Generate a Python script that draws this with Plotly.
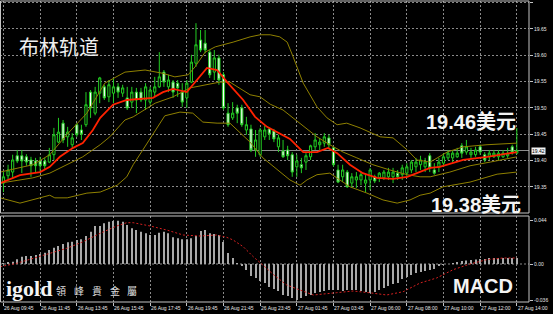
import plotly.graph_objects as go

# ---------------- data ----------------
time_labels = ["26 Aug 09:45", "26 Aug 11:45", "26 Aug 13:45", "26 Aug 15:45",
               "26 Aug 17:45", "26 Aug 19:45", "26 Aug 21:45", "26 Aug 23:45",
               "27 Aug 01:45", "27 Aug 03:45", "27 Aug 06:00", "27 Aug 08:00",
               "27 Aug 10:00", "27 Aug 12:00", "27 Aug 14:00"]
label_bars = [0, 8, 16, 24, 32, 40, 48, 56, 64, 72, 80, 88, 96, 104, 112]

opens = [19.357, 19.371, 19.378, 19.409, 19.409, 19.407, 19.401, 19.399, 19.399, 19.399,
         19.397, 19.411, 19.435, 19.471, 19.445, 19.430, 19.468, 19.458, 19.468, 19.530,
         19.490, 19.528, 19.540, 19.521, 19.528, 19.540, 19.528, 19.519, 19.511, 19.530,
         19.530, 19.515, 19.511, 19.530, 19.540, 19.568, 19.540, 19.549, 19.547, 19.530,
         19.519, 19.549, 19.585, 19.629, 19.623, 19.606, 19.568, 19.595, 19.563, 19.490,
         19.481, 19.500, 19.500, 19.458, 19.460, 19.420, 19.411, 19.445, 19.460, 19.456,
         19.426, 19.418, 19.420, 19.411, 19.388, 19.392, 19.397, 19.407, 19.426, 19.430,
         19.433, 19.443, 19.424, 19.382, 19.369, 19.378, 19.357, 19.363, 19.363, 19.357,
         19.363, 19.369, 19.367, 19.367, 19.369, 19.369, 19.376, 19.373, 19.376, 19.382,
         19.388, 19.392, 19.388, 19.409, 19.382, 19.388, 19.395, 19.405, 19.405, 19.407,
         19.428, 19.416, 19.411, 19.411, 19.426, 19.411, 19.407, 19.407, 19.407, 19.407,
         19.409, 19.426, 19.414]
highs = [19.378, 19.392, 19.411, 19.420, 19.420, 19.412, 19.407, 19.405, 19.407, 19.405,
         19.424, 19.462, 19.481, 19.477, 19.464, 19.452, 19.471, 19.468, 19.530, 19.534,
         19.540, 19.559, 19.544, 19.553, 19.557, 19.547, 19.544, 19.540, 19.540, 19.538,
         19.538, 19.547, 19.540, 19.559, 19.606, 19.572, 19.563, 19.553, 19.553, 19.547,
         19.553, 19.601, 19.661, 19.648, 19.648, 19.610, 19.610, 19.601, 19.568, 19.509,
         19.511, 19.506, 19.506, 19.483, 19.468, 19.458, 19.462, 19.466, 19.462, 19.460,
         19.449, 19.439, 19.428, 19.416, 19.411, 19.405, 19.414, 19.430, 19.452, 19.443,
         19.452, 19.449, 19.426, 19.392, 19.392, 19.382, 19.376, 19.378, 19.378, 19.373,
         19.386, 19.373, 19.378, 19.382, 19.386, 19.386, 19.382, 19.392, 19.395, 19.401,
         19.405, 19.409, 19.405, 19.414, 19.395, 19.405, 19.414, 19.420, 19.420, 19.424,
         19.433, 19.439, 19.424, 19.426, 19.430, 19.416, 19.420, 19.420, 19.420, 19.420,
         19.424, 19.430, 19.462]
lows = [19.340, 19.363, 19.367, 19.395, 19.376, 19.390, 19.369, 19.378, 19.376, 19.382,
        19.395, 19.401, 19.433, 19.433, 19.426, 19.424, 19.445, 19.439, 19.464, 19.481,
        19.486, 19.509, 19.515, 19.511, 19.509, 19.519, 19.521, 19.496, 19.500, 19.490,
        19.511, 19.496, 19.506, 19.521, 19.538, 19.540, 19.530, 19.519, 19.521, 19.502,
        19.500, 19.547, 19.578, 19.606, 19.604, 19.557, 19.553, 19.544, 19.496, 19.464,
        19.477, 19.471, 19.464, 19.449, 19.416, 19.407, 19.407, 19.439, 19.439, 19.435,
        19.416, 19.405, 19.401, 19.369, 19.369, 19.376, 19.382, 19.401, 19.420, 19.420,
        19.426, 19.424, 19.388, 19.357, 19.359, 19.348, 19.348, 19.348, 19.353, 19.340,
        19.344, 19.357, 19.359, 19.363, 19.363, 19.357, 19.363, 19.363, 19.369, 19.376,
        19.378, 19.382, 19.378, 19.378, 19.373, 19.378, 19.388, 19.401, 19.397, 19.405,
        19.405, 19.411, 19.405, 19.407, 19.411, 19.397, 19.401, 19.405, 19.401, 19.405,
        19.405, 19.411, 19.412]
closes = [19.369, 19.382, 19.401, 19.399, 19.399, 19.397, 19.390, 19.390, 19.390, 19.390,
          19.411, 19.449, 19.454, 19.439, 19.454, 19.443, 19.449, 19.450, 19.506, 19.500,
          19.530, 19.557, 19.519, 19.544, 19.540, 19.530, 19.538, 19.500, 19.530, 19.515,
          19.515, 19.540, 19.534, 19.540, 19.559, 19.549, 19.553, 19.530, 19.538, 19.511,
          19.547, 19.587, 19.620, 19.610, 19.610, 19.563, 19.595, 19.553, 19.500, 19.468,
          19.490, 19.490, 19.468, 19.468, 19.420, 19.439, 19.458, 19.458, 19.450, 19.441,
          19.443, 19.407, 19.409, 19.378, 19.399, 19.386, 19.409, 19.428, 19.439, 19.435,
          19.445, 19.430, 19.392, 19.359, 19.382, 19.350, 19.369, 19.369, 19.373, 19.363,
          19.382, 19.361, 19.376, 19.378, 19.378, 19.378, 19.369, 19.386, 19.388, 19.397,
          19.397, 19.401, 19.397, 19.386, 19.376, 19.397, 19.407, 19.414, 19.414, 19.414,
          19.414, 19.426, 19.416, 19.420, 19.416, 19.401, 19.414, 19.414, 19.414, 19.414,
          19.414, 19.416, 19.419]

# Bollinger bands (upper / middle / lower), read at sample bars
ub_bar = [-0.7, 6.4, 10.1, 13.9, 18.2, 21.1, 22.1, 26.5, 30.9, 34.6, 37.4, 40.3, 41.8,
          44.0, 46.2, 50.1, 53.8, 56.0, 58.2, 60.3, 61.9, 63.2, 65.4, 68.4, 70.6, 72.8,
          74.9, 77.8, 82.2, 85.0, 88.1, 90.2, 93.1, 96.8, 100.3, 105.5, 112.0]
ub_val = [19.378, 19.392, 19.411, 19.450, 19.490, 19.534, 19.547, 19.568, 19.572, 19.566,
          19.559, 19.563, 19.578, 19.606, 19.616, 19.625, 19.635, 19.639, 19.639, 19.635,
          19.625, 19.597, 19.547, 19.502, 19.481, 19.468, 19.471, 19.462, 19.445, 19.443,
          19.420, 19.401, 19.397, 19.416, 19.426, 19.430, 19.433]
mb_bar = [-0.7, 6.4, 10.1, 13.9, 17.3, 21.1, 23.2, 26.5, 28.3, 33.1, 37.0, 40.7, 44.4,
          47.2, 49.4, 52.3, 53.8, 56.0, 58.2, 61.0, 64.7, 68.4, 71.2, 74.1, 77.1, 80.6,
          84.3, 88.1, 90.9, 93.1, 97.4, 101.8, 106.2, 112.0]
mb_val = [19.357, 19.367, 19.376, 19.392, 19.407, 19.430, 19.445, 19.477, 19.483, 19.509,
          19.521, 19.538, 19.544, 19.549, 19.549, 19.534, 19.525, 19.521, 19.507, 19.496,
          19.471, 19.445, 19.430, 19.416, 19.405, 19.392, 19.382, 19.373, 19.369, 19.369,
          19.378, 19.390, 19.397, 19.407]
lb_bar = [-0.7, 3.6, 10.1, 11.2, 13.9, 18.2, 21.1, 24.8, 26.9, 28.3, 30.4, 33.1, 35.2,
          38.5, 41.3, 43.5, 46.6, 49.4, 53.8, 56.6, 59.7, 62.5, 64.7, 66.2, 68.4, 71.2,
          75.6, 79.3, 82.8, 85.9, 88.7, 90.9, 93.1, 95.9, 101.8, 107.7, 112.0]
lb_val = [19.329, 19.319, 19.334, 19.329, 19.329, 19.338, 19.340, 19.353, 19.369, 19.392,
          19.420, 19.458, 19.485, 19.492, 19.490, 19.473, 19.471, 19.471, 19.435, 19.405,
          19.382, 19.363, 19.353, 19.363, 19.373, 19.376, 19.350, 19.338, 19.325, 19.319,
          19.325, 19.334, 19.338, 19.350, 19.359, 19.374, 19.378]
# red moving average
ma_bar = [-0.7, 3.6, 8.0, 10.1, 12.3, 15.2, 17.3, 19.5, 21.1, 23.9, 26.9, 29.8, 32.6,
          34.8, 37.0, 40.0, 42.2, 44.4, 46.6, 48.8, 52.3, 54.9, 57.5, 60.3, 62.5, 65.4,
          68.4, 70.8, 72.8, 75.6, 78.4, 81.5, 85.0, 88.1, 90.9, 93.1, 95.2, 100.3, 105.5,
          112.0]
ma_val = [19.357, 19.372, 19.378, 19.388, 19.407, 19.424, 19.433, 19.458, 19.481, 19.506,
          19.515, 19.517, 19.519, 19.530, 19.536, 19.530, 19.553, 19.576, 19.572, 19.549,
          19.515, 19.483, 19.464, 19.452, 19.441, 19.416, 19.416, 19.424, 19.414, 19.392,
          19.376, 19.367, 19.365, 19.369, 19.378, 19.386, 19.388, 19.401, 19.407, 19.416]

macd_hist = [0.0007, 0.0013, 0.0023, 0.0047, 0.0073, 0.008, 0.008, 0.009, 0.010, 0.0113,
             0.014, 0.0163, 0.018, 0.020, 0.0217, 0.0223, 0.024, 0.0247, 0.028, 0.0323,
             0.038, 0.038, 0.0407, 0.0423, 0.043, 0.0433, 0.0423, 0.039, 0.0357, 0.034,
             0.0323, 0.0307, 0.029, 0.029, 0.0313, 0.0323, 0.0307, 0.0267, 0.0257, 0.0247,
             0.0247, 0.0257, 0.028, 0.033, 0.034, 0.0307, 0.030, 0.029, 0.022, 0.011,
             0.006, 0.001, -0.002, -0.006, -0.012, -0.014, -0.017, -0.019, -0.023, -0.025,
             -0.027, -0.031, -0.032, -0.034, -0.036, -0.034, -0.032, -0.031, -0.029, -0.028,
             -0.027, -0.026, -0.026, -0.026, -0.027, -0.026, -0.026, -0.026, -0.027, -0.028,
             -0.029, -0.028, -0.026, -0.024, -0.022, -0.020, -0.019, -0.015, -0.013, -0.011,
             -0.009, -0.008, -0.007, -0.006, -0.005, -0.002, -0.001, 0.000, 0.001, 0.002,
             0.003, 0.0035, 0.004, 0.0045, 0.005, 0.005, 0.006, 0.006, 0.006, 0.006,
             0.006, 0.006, 0.006]
sig_bar = [-0.7, 2.9, 6.5, 10.1, 13.8, 17.4, 21.1, 24.7, 26.9, 28.3, 32.0, 35.6, 39.2,
           42.9, 46.5, 48.7, 50.1, 52.3, 54.5, 57.4, 59.0, 61.8, 65.4, 67.6, 72.7, 76.3,
           80.3, 83.6, 87.2, 90.9, 94.5, 98.1, 101.8, 105.4, 109.0, 112.0]
sig_val = [-0.0027, 0.0007, 0.0057, 0.0107, 0.0157, 0.0223, 0.0307, 0.038, 0.0413, 0.0413,
           0.038, 0.034, 0.029, 0.028, 0.029, 0.0267, 0.024, 0.0173, 0.0073, -0.0043,
           -0.011, -0.021, -0.0277, -0.031, -0.0287, -0.027, -0.029, -0.031, -0.0277, -0.019,
           -0.014, -0.0057, 0.0, 0.0043, 0.006, 0.006]

price_ticks = [19.35, 19.40, 19.45, 19.50, 19.55, 19.60, 19.65, 19.70]
macd_ticks = [-0.036, 0.0, 0.044]
macd_tick_text = ["-0.036", "0.00", "0.044"]
last_price = 19.419

# ---------------- layout helpers ----------------
W, H = 553, 314
def px(x):
    return x / W
def py(y):
    return 1 - y / H

RIGHT = 529
bars = list(range(len(opens)))
xr = [-0.76, 114.66]
GREEN = "#22cc22"
OLIVE = "#8f8000"
GRID = "#8a8a8a"
FRAME = "#c4c4c4"

fig = go.Figure()

fig.add_trace(go.Candlestick(
    x=bars, open=opens, high=highs, low=lows, close=closes,
    increasing=dict(line=dict(color=GREEN, width=1), fillcolor="black"),
    decreasing=dict(line=dict(color=GREEN, width=1), fillcolor="white"),
    whiskerwidth=0, xaxis="x", yaxis="y", hoverinfo="skip"))

for bx, by in [(ub_bar, ub_val), (mb_bar, mb_val), (lb_bar, lb_val)]:
    fig.add_trace(go.Scatter(x=bx, y=by, mode="lines", line=dict(color=OLIVE, width=1),
                             xaxis="x", yaxis="y", hoverinfo="skip"))
fig.add_trace(go.Scatter(x=ma_bar, y=ma_val, mode="lines", line=dict(color="#ff2200", width=1.8),
                         xaxis="x", yaxis="y", hoverinfo="skip"))

fig.add_trace(go.Bar(x=bars, y=macd_hist, width=0.22, marker=dict(color="#a9a9a9", line=dict(width=0)),
                     xaxis="x2", yaxis="y2", hoverinfo="skip"))
fig.add_trace(go.Scatter(x=sig_bar, y=sig_val, mode="lines",
                         line=dict(color="#d42020", width=1, dash="2px,2px"),
                         xaxis="x2", yaxis="y2", hoverinfo="skip"))

axis_font = dict(family="Liberation Sans", size=5, color="#e6e6e6")

fig.update_layout(
    width=W, height=H, margin=dict(l=0, r=0, t=0, b=0),
    paper_bgcolor="black", plot_bgcolor="black", showlegend=False,
    boxgap=0.32,
    xaxis=dict(domain=[0, px(RIGHT)], range=xr, tickvals=label_bars, showticklabels=False,
               showgrid=True, gridcolor=GRID, griddash="2px,2px", gridwidth=1,
               zeroline=False, showline=False, ticks="", rangeslider=dict(visible=False),
               anchor="y"),
    yaxis=dict(domain=[py(213), py(1)], range=[19.3002, 19.7032], side="right",
               tickvals=price_ticks, ticktext=["%.2f" % v if v < 19.69 else "" for v in price_ticks],
               showgrid=True, gridcolor=GRID, griddash="2px,2px", gridwidth=1,
               zeroline=False, showline=False, ticks="outside", ticklen=3, tickcolor=FRAME,
               tickfont=axis_font, anchor="x"),
    xaxis2=dict(domain=[0, px(RIGHT)], range=xr, matches="x", tickvals=label_bars,
                showticklabels=False, showgrid=True, gridcolor=GRID, griddash="2px,2px",
                gridwidth=1, zeroline=False, showline=False, ticks="outside", ticklen=3,
                tickcolor=FRAME, anchor="y2"),
    yaxis2=dict(domain=[py(302), py(216)], range=[-0.038, 0.048], side="right",
                tickvals=macd_ticks, ticktext=macd_tick_text, showgrid=False,
                zeroline=False, showline=False, ticks="outside", ticklen=3, tickcolor=FRAME,
                tickfont=axis_font, anchor="x2"),
)

shapes = [
    dict(type="line", xref="x domain", yref="y", x0=0, x1=1, y0=last_price, y1=last_price,
         line=dict(color="#8c8c8c", width=1), layer="below"),
    dict(type="line", xref="x2 domain", yref="y2", x0=0, x1=1, y0=0, y1=0,
         line=dict(color=GRID, width=1, dash="2px,2px"), layer="below"),
    dict(type="rect", xref="paper", yref="paper", x0=px(0.5), x1=px(RIGHT), y0=py(213), y1=py(1),
         line=dict(color=FRAME, width=1)),
    dict(type="rect", xref="paper", yref="paper", x0=px(0.5), x1=px(RIGHT), y0=py(302), y1=py(216),
         line=dict(color=FRAME, width=1)),
]
fig.update_layout(shapes=shapes)

ann = []
for b, t in zip(label_bars, time_labels):
    ann.append(dict(x=b, xref="x2", y=py(307.5), yref="paper", text=t, showarrow=False,
                    xanchor="left", yanchor="middle", xshift=-1, font=axis_font))
ann.append(dict(x=px(531), y=last_price, xref="paper", yref="y", text="19.42", showarrow=False,
                xanchor="left", yanchor="middle", bgcolor="#f2f2f2", borderpad=0,
                font=dict(family="Liberation Sans", size=5, color="black")))
ann.append(dict(x=px(59), y=py(47), xref="paper", yref="paper", text="布林轨道", showarrow=False,
                xanchor="center", yanchor="middle",
                font=dict(family="Noto Sans CJK SC", size=20, color="#eeeeee")))
big = dict(family="Liberation Sans, Noto Sans CJK SC", size=20, color="#f4f4f4", weight="bold")
ann.append(dict(x=px(518), y=py(122), xref="paper", yref="paper", text="19.46美元",
                showarrow=False, xanchor="right", yanchor="middle", font=big))
ann.append(dict(x=px(523), y=py(205), xref="paper", yref="paper", text="19.38美元",
                showarrow=False, xanchor="right", yanchor="middle", font=big))
ann.append(dict(x=px(483), y=py(286), xref="paper", yref="paper", text="MACD",
                showarrow=False, xanchor="center", yanchor="middle", font=big))
ann.append(dict(x=px(29), y=py(288), xref="paper", yref="paper", text="igold", showarrow=False,
                xanchor="center", yanchor="middle",
                font=dict(family="Liberation Serif", size=22, color="#f4f4f4", weight="bold")))
for cx, ch in zip([61, 79, 97, 115, 132], ["領", "峰", "貴", "金", "屬"]):
    ann.append(dict(x=px(cx), y=py(290), xref="paper", yref="paper", text=ch, showarrow=False,
                    xanchor="center", yanchor="middle",
                    font=dict(family="Noto Sans CJK TC", size=10, color="#dddddd")))
fig.update_layout(annotations=ann)

fig.write_html("out.html")
